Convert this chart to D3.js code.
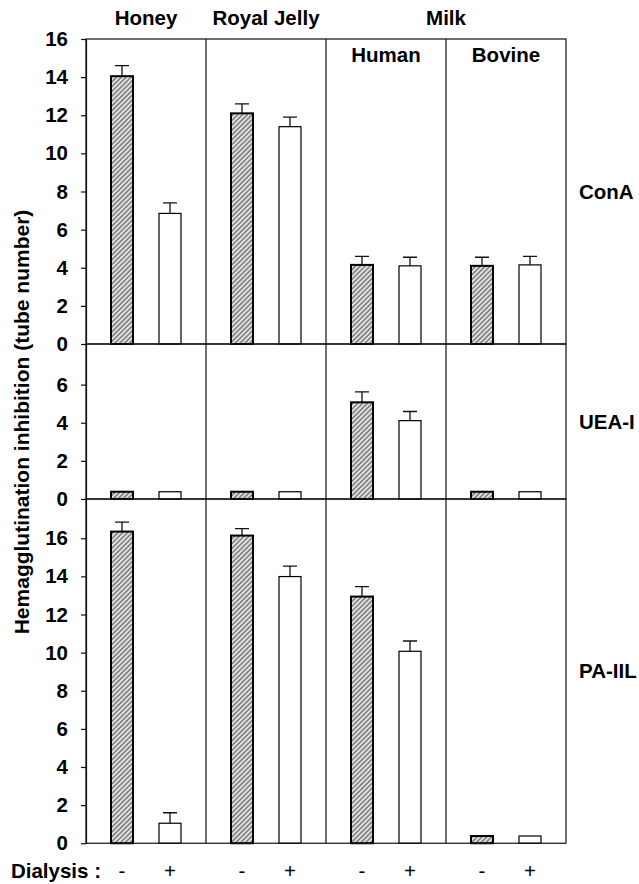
<!DOCTYPE html>
<html>
<head>
<meta charset="utf-8">
<script src="https://cdn.jsdelivr.net/npm/d3@7"></script>
<style>
  body { margin: 0; background: #fff; }
  text { font-family: "Liberation Sans", Arial, Helvetica, sans-serif; }
</style>
</head>
<body>
<div id="chart"></div>
<script>
// Data
const groups = ['Honey', 'Royal Jelly', 'Human', 'Bovine'];
const dialysis = ['-', '+'];
const lectins = ['ConA', 'UEA-I', 'PA-IIL'];
const yMax = [16, 8.13, 18.06];
const yTicks = [[0, 2, 4, 6, 8, 10, 12, 14, 16], [0, 2, 4, 6], [0, 2, 4, 6, 8, 10, 12, 14, 16]];

const conAMinus = [14.05, 12.1, 4.15, 4.1];
const conAMinusErr = [0.55, 0.5, 0.45, 0.45];
const conAPlus = [6.85, 11.4, 4.1, 4.15];
const conAPlusErr = [0.55, 0.5, 0.45, 0.45];

const ueaMinus = [0.38, 0.38, 5.07, 0.38];
const ueaMinusErr = [0, 0, 0.55, 0];
const ueaPlus = [0.38, 0.38, 4.11, 0.38];
const ueaPlusErr = [0, 0, 0.48, 0];

const paMinus = [16.35, 16.14, 12.94, 0.38];
const paMinusErr = [0.5, 0.37, 0.52, 0];
const paPlus = [1.05, 13.99, 10.07, 0.38];
const paPlusErr = [0.55, 0.55, 0.54, 0];

const series = [
  [conAMinus, conAMinusErr, conAPlus, conAPlusErr],
  [ueaMinus, ueaMinusErr, ueaPlus, ueaPlusErr],
  [paMinus, paMinusErr, paPlus, paPlusErr]
];

// Dimensions
const width = 639, height = 884;
const plotLeft = 86, plotRight = 566, plotTop = 39;
const ppu = 305 / 16; // pixels per tube number
const font = 20.5;

const svg = d3.select('#chart').append('svg')
  .attr('width', width)
  .attr('height', height);

// hatch pattern for the "-" bars
const defs = svg.append('defs');
const pat = defs.append('pattern')
  .attr('id', 'hatch')
  .attr('patternUnits', 'userSpaceOnUse')
  .attr('width', 3.4)
  .attr('height', 3.4)
  .attr('patternTransform', 'rotate(45)');
pat.append('rect').attr('width', 3.4).attr('height', 3.4).attr('fill', '#e2e2e2');
pat.append('line')
  .attr('x1', 1).attr('y1', 0).attr('x2', 1).attr('y2', 3.4)
  .attr('stroke', '#6a6a6a').attr('stroke-width', 1.3);

const xGroup = d3.scaleBand().domain(groups).range([plotLeft, plotRight]);
const xInner = d3.scalePoint().domain(dialysis).range([0, xGroup.bandwidth()]).padding(0.75);
const barW = 22;
const xc = (g, d) => xGroup(g) + xInner(d);

// panels stacked vertically
let y0 = plotTop;
const panels = yMax.map((m, i) => {
  const y1 = y0 + m * ppu;
  const p = { top: y0, bottom: y1, y: d3.scaleLinear().domain([0, m]).range([y1, y0]) };
  y0 = y1;
  return p;
});
const bottomY = panels[panels.length - 1].bottom;

panels.forEach((p, i) => {
  const g = svg.append('g');

  // bars
  dialysis.forEach((d, k) => {
    const vals = series[i][k * 2];
    const errs = series[i][k * 2 + 1];
    const hatched = d === '-';

    g.selectAll('.err' + k)
      .data(groups.filter((gr, j) => errs[j] > 0))
      .enter()
      .append('path')
      .attr('d', gr => {
        const j = groups.indexOf(gr);
        const cx = xc(gr, d);
        const yt = p.y(vals[j]), ye = p.y(vals[j] + errs[j]);
        return 'M' + cx + ',' + yt + 'V' + ye + 'M' + (cx - 7) + ',' + ye + 'H' + (cx + 7);
      })
      .attr('fill', 'none')
      .attr('stroke', '#111')
      .attr('stroke-width', 1.3);

    g.selectAll('.bar' + k)
      .data(groups)
      .enter()
      .append('rect')
      .attr('x', gr => xc(gr, d) - barW / 2)
      .attr('y', (gr, j) => p.y(vals[j]))
      .attr('width', barW)
      .attr('height', (gr, j) => p.y(0) - p.y(vals[j]))
      .attr('fill', hatched ? 'url(#hatch)' : '#fff')
      .attr('stroke', '#000')
      .attr('stroke-width', hatched ? 2 : 1.2);
  });

  // frame of the panel
  g.append('rect')
    .attr('x', plotLeft).attr('y', p.top)
    .attr('width', plotRight - plotLeft).attr('height', p.bottom - p.top)
    .attr('fill', 'none')
    .attr('stroke', '#111')
    .attr('stroke-width', 1.2);

  // y axis
  const axis = g.append('g')
    .attr('transform', 'translate(' + plotLeft + ',0)')
    .call(d3.axisLeft(p.y).tickValues(yTicks[i]).tickSize(5).tickSizeOuter(0).tickPadding(13).tickFormat(d3.format('d')));
  axis.select('.domain').attr('stroke', '#111').attr('stroke-width', 1.2);
  axis.selectAll('.tick line').attr('stroke', '#111').attr('stroke-width', 1.2);
  axis.selectAll('.tick text')
    .attr('fill', '#000')
    .style('font-size', font + 'px')
    .style('font-weight', 'bold')
    .style('font-family', '"Liberation Sans", Arial, sans-serif');

  // lectin label on the right
  svg.append('text')
    .attr('x', 579)
    .attr('y', (p.top + p.bottom) / 2)
    .attr('dy', '0.36em')
    .style('font-size', font + 'px')
    .style('font-weight', 'bold')
    .text(lectins[i]);
});

// group dividers
svg.selectAll('.divider')
  .data(groups.slice(1))
  .enter()
  .append('line')
  .attr('x1', d => xGroup(d)).attr('x2', d => xGroup(d))
  .attr('y1', plotTop).attr('y2', bottomY)
  .attr('stroke', '#111')
  .attr('stroke-width', 1.2);

// titles
const titleStyle = sel => sel.attr('text-anchor', 'middle')
  .style('font-size', font + 'px').style('font-weight', 'bold');

svg.selectAll('.toptitle')
  .data(groups.slice(0, 2))
  .enter()
  .append('text')
  .attr('x', d => xGroup(d) + xGroup.bandwidth() / 2)
  .attr('y', 25)
  .call(titleStyle)
  .text(d => d);

svg.append('text')
  .attr('x', xGroup('Bovine'))
  .attr('y', 25)
  .call(titleStyle)
  .text('Milk');

svg.selectAll('.subtitle')
  .data(groups.slice(2))
  .enter()
  .append('text')
  .attr('x', d => xGroup(d) + xGroup.bandwidth() / 2)
  .attr('y', 62)
  .call(titleStyle)
  .text(d => d);

// y axis label
svg.append('text')
  .attr('transform', 'translate(21,422) rotate(-90)')
  .attr('text-anchor', 'middle')
  .attr('dy', '0.36em')
  .style('font-size', '21px')
  .style('font-weight', 'bold')
  .text('Hemagglutination inhibition (tube number)');

// dialysis row
svg.append('text')
  .attr('x', 101)
  .attr('y', 878)
  .attr('text-anchor', 'end')
  .style('font-size', font + 'px')
  .style('font-weight', 'bold')
  .text('Dialysis :');

const signs = [];
groups.forEach(gr => dialysis.forEach(d => signs.push({ g: gr, d: d })));
svg.selectAll('.sign')
  .data(signs)
  .enter()
  .append('text')
  .attr('x', s => xc(s.g, s.d))
  .attr('y', 878)
  .attr('text-anchor', 'middle')
  .style('font-size', font + 'px')
  .text(s => s.d);
</script>
</body>
</html>
